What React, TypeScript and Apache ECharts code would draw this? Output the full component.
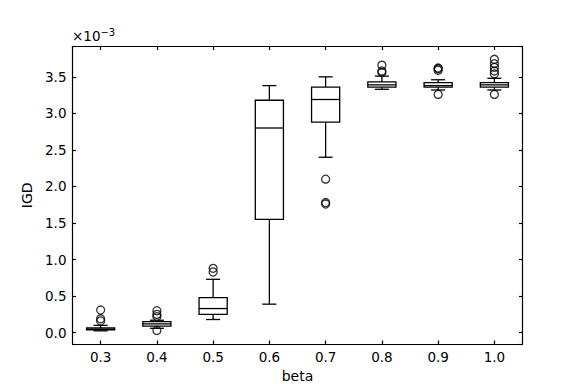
import React, { useEffect, useRef } from "react";
import * as echarts from "echarts";

// values in units of 1e-3
const categories = ["0.3", "0.4", "0.5", "0.6", "0.7", "0.8", "0.9", "1.0"];
const boxMin = [0.025, 0.06, 0.18, 0.39, 2.4, 3.33, 3.32, 3.32];
const boxQ1 = [0.04, 0.09, 0.25, 1.55, 2.88, 3.36, 3.36, 3.36];
const boxMedian = [0.05, 0.12, 0.33, 2.8, 3.19, 3.39, 3.38, 3.39];
const boxQ3 = [0.065, 0.15, 0.48, 3.18, 3.36, 3.43, 3.42, 3.42];
const boxMax = [0.1, 0.17, 0.73, 3.38, 3.5, 3.51, 3.46, 3.48];
const outliers: number[][] = [
  [0.31, 0.19, 0.16],
  [0.3, 0.25, 0.22, 0.03],
  [0.83, 0.88],
  [],
  [2.1, 1.78, 1.76],
  [3.56, 3.58, 3.66],
  [3.26, 3.59, 3.61, 3.62],
  [3.26, 3.54, 3.58, 3.63, 3.68, 3.74],
];
const yTicks = [0, 0.5, 1, 1.5, 2, 2.5, 3, 3.5];
const Y_MIN = -0.155;
const Y_MAX = 3.915;

const FONT = "DejaVu Sans";

export default function App() {
  const ref = useRef<HTMLDivElement>(null);
  useEffect(() => {
    if (!ref.current) return;
    const chart = echarts.init(ref.current, undefined, { renderer: "svg" });
    const boxData = categories.map((_, i) => [i, boxMin[i], boxQ1[i], boxMedian[i], boxQ3[i], boxMax[i]]);
    const outlierData: number[][] = [];
    outliers.forEach((arr, i) => arr.forEach((v) => outlierData.push([i, v])));
    const isTick = (v: number) => yTicks.some((t) => Math.abs(t - v) < 1e-6);
    const lineStyle = { color: "#000", width: 1.2 };
    const tickStyle = { color: "#000", width: 1.2 };
    const yCommon = {
      type: "value",
      min: Y_MIN,
      max: Y_MAX,
      splitNumber: 8,
      splitLine: { show: false },
      axisLine: { show: true, onZero: false, lineStyle },
    };
    chart.setOption({
      animation: false,
      grid: { left: 72.5, right: 58.5, top: 46.5, bottom: 43.5, containLabel: false },
      xAxis: [
        {
          type: "category",
          data: categories,
          boundaryGap: true,
          position: "bottom",
          axisLine: { show: true, onZero: false, lineStyle },
          axisTick: { show: true, inside: true, length: 3.5, alignWithLabel: true, lineStyle: tickStyle },
          axisLabel: { color: "#000", fontFamily: FONT, fontSize: 13.5, margin: 6 },
          splitLine: { show: false },
          name: "beta",
          nameLocation: "middle",
          nameGap: 25,
          nameTextStyle: { color: "#000", fontFamily: FONT, fontSize: 14 },
        },
        {
          type: "category",
          data: categories,
          boundaryGap: true,
          position: "top",
          axisLine: { show: true, onZero: false, lineStyle },
          axisTick: { show: true, inside: true, length: 3.5, alignWithLabel: true, lineStyle: tickStyle },
          axisLabel: { show: false },
          splitLine: { show: false },
        },
      ],
      yAxis: [
        {
          ...yCommon,
          position: "left",
          axisTick: {
            show: true,
            inside: true,
            length: 3.5,
            lineStyle: tickStyle,
          },
          axisLabel: {
            color: "#000",
            fontFamily: FONT,
            fontSize: 13.5,
            margin: 6,
            formatter: (v: number) => (isTick(v) ? v.toFixed(1) : ""),
          },
          name: "IGD",
          nameLocation: "middle",
          nameGap: 35,
          nameTextStyle: { color: "#000", fontFamily: FONT, fontSize: 14 },
        },
        {
          ...yCommon,
          position: "right",
          axisTick: { show: true, inside: true, length: 3.5, lineStyle: tickStyle },
          axisLabel: { show: false },
        },
      ],
      graphic: [
        {
          type: "text",
          left: 72,
          top: 27,
          style: {
            text: "×10{sup|−3}",
            fontFamily: FONT,
            fontSize: 13.5,
            fill: "#000",
            rich: { sup: { fontSize: 10, fontFamily: FONT, fill: "#000", verticalAlign: "top", padding: [0, 0, 8, 0] } },
          },
        },
      ],
      series: [
        {
          type: "custom",
          xAxisIndex: 0,
          yAxisIndex: 0,
          data: boxData,
          encode: { x: 0, y: [1, 2, 3, 4, 5] },
          renderItem: (params: any, api: any) => {
            const idx = api.value(0);
            const w = api.size([1, 0])[0] * 0.5;
            const pMin = api.coord([idx, api.value(1)]);
            const pQ1 = api.coord([idx, api.value(2)]);
            const pMed = api.coord([idx, api.value(3)]);
            const pQ3 = api.coord([idx, api.value(4)]);
            const pMax = api.coord([idx, api.value(5)]);
            const cx = pMed[0];
            const st = { stroke: "#000", lineWidth: 1.3, fill: "none" };
            return {
              type: "group",
              children: [
                { type: "rect", shape: { x: cx - w / 2, y: pQ3[1], width: w, height: pQ1[1] - pQ3[1] }, style: { ...st, fill: "#fff" } },
                { type: "line", shape: { x1: cx - w / 2, y1: pMed[1], x2: cx + w / 2, y2: pMed[1] }, style: st },
                { type: "line", shape: { x1: cx, y1: pQ3[1], x2: cx, y2: pMax[1] }, style: st },
                { type: "line", shape: { x1: cx, y1: pQ1[1], x2: cx, y2: pMin[1] }, style: st },
                { type: "line", shape: { x1: cx - w / 4, y1: pMax[1], x2: cx + w / 4, y2: pMax[1] }, style: st },
                { type: "line", shape: { x1: cx - w / 4, y1: pMin[1], x2: cx + w / 4, y2: pMin[1] }, style: st },
              ],
            };
          },
          z: 2,
        },
        {
          type: "scatter",
          xAxisIndex: 0,
          yAxisIndex: 0,
          data: outlierData,
          symbol: "circle",
          symbolSize: 8,
          itemStyle: { color: "transparent", borderColor: "#000", borderWidth: 1.3 },
          z: 3,
        },
      ],
    });
    return () => chart.dispose();
  }, []);
  return (
    <div
      ref={ref}
      style={{ position: "absolute", left: 0, top: 0, width: 581, height: 388, background: "#fff" }}
    />
  );
}
